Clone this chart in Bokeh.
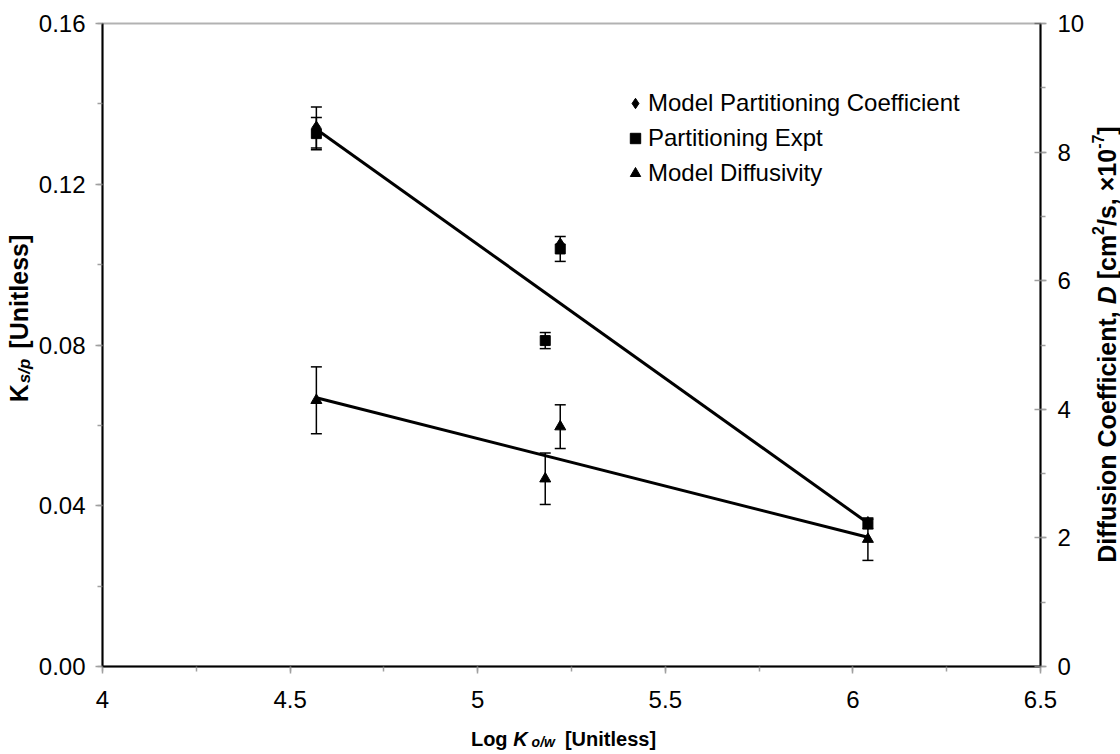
import math
from bokeh.plotting import figure
from bokeh.models import (Range1d, LinearAxis, SingleIntervalTicker, NumeralTickFormatter,
                          ColumnDataSource, Whisker, TeeHead, Legend, LegendItem, Label,
                          BoxAnnotation)
from bokeh.embed import file_html
from bokeh.resources import INLINE

# ---------------- data ----------------
log_kow = [4.57, 5.18, 5.22, 6.04]
expt_ksp = [0.1326, 0.0811, 0.1039, 0.0355]        # Partitioning Expt (left axis)
expt_err = [0.0040, 0.0020, 0.0031, 0.0012]
model_kow = [4.57, 5.22, 6.04]
model_ksp = [0.1341, 0.1050, 0.0357]               # Model Partitioning Coefficient
model_err = [0.0051, 0.0, 0.0]
diff_D = [4.14, 2.92, 3.73, 1.98]                  # Model Diffusivity (right axis, x1e-7 cm2/s)
diff_err = [0.52, 0.40, 0.34, 0.33]
trend_x = [4.57, 6.04]
trend_ksp = [0.1337, 0.0357]
trend_D = [4.18, 2.01]

x_lim = (4, 6.5)
ksp_lim = (0, 0.16)
D_lim = (0, 10)
legend_labels = ["Model Partitioning Coefficient", "Partitioning Expt", "Model Diffusivity"]

# ---------------- layout constants (pixels) ----------------
W, H = 1120, 754
PL, PR, PT, PB = 102, 1040, 23, 666     # plot-area box on the page
FONT = "Liberation Sans"
TICK = "#a0a0a0"

def padded(lim, lo_px, hi_px, span_px):
    k = (lim[1] - lim[0]) / span_px
    return Range1d(lim[0] - lo_px * k, lim[1] + hi_px * k)

p = figure(width=W, height=H,
           x_range=padded(x_lim, PL, W - PR, PR - PL),
           y_range=padded(ksp_lim, H - PB, PT, PB - PT),
           output_backend="svg", toolbar_location=None,
           min_border=0, min_border_left=0, min_border_right=0,
           min_border_top=0, min_border_bottom=0)
p.title.visible = False
p.extra_y_ranges = {"D": padded(D_lim, H - PB, PT, PB - PT)}
p.xgrid.visible = False
p.ygrid.visible = False
p.outline_line_color = None
p.background_fill_color = "white"
p.border_fill_color = "white"

# plot-area box
p.add_layout(BoxAnnotation(left=x_lim[0], right=x_lim[1], bottom=ksp_lim[0], top=ksp_lim[1],
                           fill_color=None, line_color="black", line_width=2))

xa = p.xaxis[0]
xa.fixed_location = ksp_lim[0]
xa.bounds = x_lim
xa.ticker = SingleIntervalTicker(interval=0.5, num_minor_ticks=2)
xa.major_label_overrides = {4: "4", 5: "5", 6: "6"}
xa.major_tick_in = 0
xa.major_tick_out = 7
xa.minor_tick_in = 0
xa.minor_tick_out = 5
xa.major_label_standoff = 17

ya = p.yaxis[0]
ya.fixed_location = x_lim[0]
ya.bounds = ksp_lim
ya.ticker = SingleIntervalTicker(interval=0.04, num_minor_ticks=2)
ya.formatter = NumeralTickFormatter(format="0.00")
ya.major_tick_in = 0
ya.major_tick_out = 7
ya.minor_tick_in = 0
ya.minor_tick_out = 5
ya.major_label_standoff = 10

ra = LinearAxis(y_range_name="D", fixed_location=x_lim[1], bounds=D_lim,
                ticker=SingleIntervalTicker(interval=2, num_minor_ticks=2))
ra.major_tick_in = 6
ra.major_tick_out = 6
ra.minor_tick_in = 0
ra.minor_tick_out = 5
ra.major_label_standoff = 11
p.add_layout(ra, "right")

for ax in (xa, ya, ra):
    ax.axis_label = None
    ax.axis_line_color = "black"
    ax.axis_line_width = 2
    ax.major_tick_line_color = TICK
    ax.major_tick_line_width = 1.5
    ax.minor_tick_line_color = TICK
    ax.minor_tick_line_width = 1.5
    ax.major_label_text_font = FONT
    ax.major_label_text_font_size = "24px"
    ax.major_label_text_color = "black"

# ---------------- trend lines ----------------
p.line(trend_x, trend_ksp, line_color="black", line_width=3)
p.line(trend_x, trend_D, line_color="black", line_width=3, y_range_name="D")

# ---------------- error bars ----------------
def whisker(xs, ys, errs, y_range_name="default"):
    xx, lo, hi = [], [], []
    for x, y, e in zip(xs, ys, errs):
        if e > 0:
            xx.append(x); lo.append(y - e); hi.append(y + e)
    src = ColumnDataSource(dict(x=xx, lower=lo, upper=hi))
    w = Whisker(base="x", lower="lower", upper="upper", source=src, dimension="height",
                line_color="black", line_width=1.5, y_range_name=y_range_name,
                upper_head=TeeHead(size=11, line_color="black", line_width=1.5),
                lower_head=TeeHead(size=11, line_color="black", line_width=1.5))
    p.add_layout(w)

whisker(model_kow, model_ksp, model_err)
whisker(log_kow, expt_ksp, expt_err)
whisker(log_kow, diff_D, diff_err, "D")

# ---------------- markers ----------------
r_model = p.scatter(model_kow, model_ksp, marker="diamond", size=13,
                    fill_color="black", line_color="black")
r_expt = p.scatter(log_kow, expt_ksp, marker="square", size=10,
                   fill_color="black", line_color="black")
r_diff = p.scatter(log_kow, diff_D, marker="triangle", size=11, y_range_name="D",
                   fill_color="black", line_color="black")

# legend markers are drawn at 0.4 * min(glyph_width, glyph_height)
legend = Legend(items=[LegendItem(label=legend_labels[0], renderers=[r_model]),
                       LegendItem(label=legend_labels[1], renderers=[r_expt]),
                       LegendItem(label=legend_labels[2], renderers=[r_diff])],
                location=(622, H - 187), orientation="vertical",
                border_line_color=None, background_fill_alpha=0,
                label_text_font=FONT, label_text_font_size="24px", label_text_color="black",
                glyph_width=26, glyph_height=28, label_height=28, spacing=7,
                padding=0, margin=0, label_standoff=0)
p.add_layout(legend)

# ---------------- composite axis titles ----------------
WID = {' ': 278, 'D': 722, 'i': 278, 'f': 333, 'u': 611, 's': 556, 'o': 611, 'n': 611, 'C': 722,
       'e': 556, 'c': 556, 't': 333, ',': 278, '[': 333, 'm': 889, '/': 278, '×': 584, '1': 556,
       '0': 556, '7': 556, '-': 333, ']': 333, 'K': 722, 'L': 611, 'g': 611, 'U': 722, 'l': 278,
       'p': 611, 'w': 778, '2': 556}

def tw(text, size):
    return sum(WID.get(ch, 556) for ch in text) * size / 1000.0

def title(pieces, center, base, vertical):
    # pieces: (text, size, style, shift, gap_after_px); positions in frame (= canvas) pixels
    total = sum(tw(t, s) + g for t, s, st, sh, g in pieces)
    pos = center - total / 2.0
    for t, s, st, sh, g in pieces:
        if vertical:
            lab = Label(x=base - sh, y=pos, x_units="screen", y_units="screen", text=t,
                        angle=math.pi / 2, text_align="left", text_baseline="alphabetic")
        else:
            lab = Label(x=pos, y=base + sh, x_units="screen", y_units="screen", text=t,
                        text_align="left", text_baseline="alphabetic")
        lab.text_font = FONT
        lab.text_font_size = f"{s}px"
        lab.text_font_style = st
        lab.text_color = "black"
        p.add_layout(lab)
        pos += tw(t, s) + g

SP20 = tw(" ", 20)
SP25 = tw(" ", 25)
# x title: Log K_{o/w} [Unitless]
title([("Log", 20, "bold", 0, SP20), ("K", 20, "bold italic", 0, 4),
       ("o/w", 14, "bold italic", -3, 10), ("[Unitless]", 20, "bold", 0, 0)],
      center=563, base=16, vertical=False)
# left title: K_{s/p} [Unitless]
title([("K", 25, "bold", 0, 1), ("s/p", 17, "bold italic", -6, 10),
       ("[Unitless]", 25, "bold", 0, 0)],
      center=H - 318, base=18, vertical=True)
# right title: Diffusion Coefficient, D [cm^2/s, x10^-7]
title([("Diffusion Coefficient,", 25, "bold", 0, SP25), ("D", 25, "bold italic", 0, SP25),
       ("[cm", 25, "bold", 0, 0), ("2", 16, "bold", 9, 0), ("/s, ×10", 25, "bold", 0, 0),
       ("-7", 16, "bold", 9, 0), ("]", 25, "bold", 0, 0)],
      center=H - 344, base=1106, vertical=True)

open("out.html", "w").write(file_html(p, INLINE))
